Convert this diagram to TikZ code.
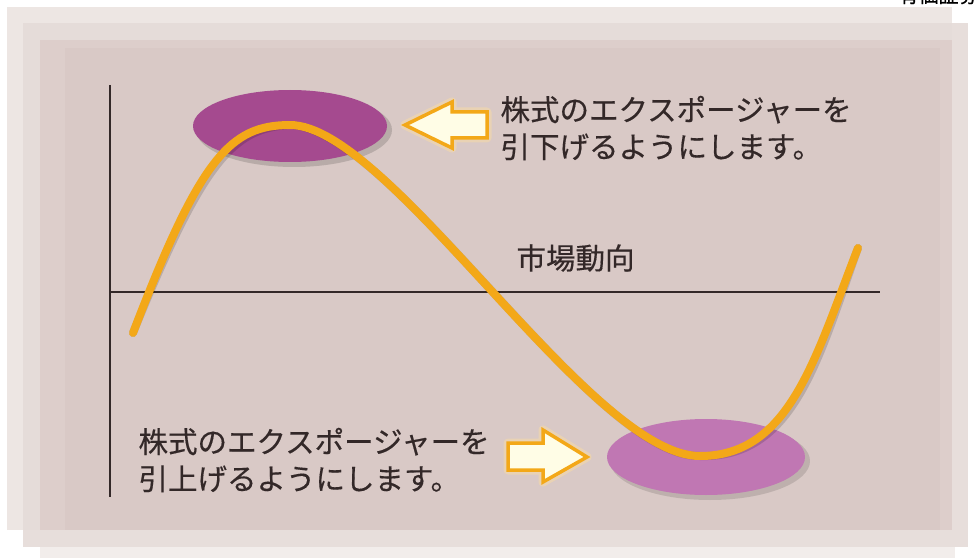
\documentclass[tikz,border=0pt]{standalone}
\usepackage{fontspec}
\setmainfont{Noto Sans CJK JP}[FakeBold=0.4]
\usepackage{tikz}
\usetikzlibrary{shapes.geometric}
\definecolor{paneldark}{HTML}{D9C9C6}
\definecolor{panelmid}{HTML}{E5DBD8}
\definecolor{panellight}{HTML}{EDE6E3}
\definecolor{humptop}{HTML}{A54A8F}
\definecolor{humpbot}{HTML}{C077B3}
\definecolor{trendorange}{HTML}{F3A818}
\definecolor{inkdark}{HTML}{332828}
\definecolor{arrowfill}{HTML}{FFFDE6}
\tikzset{
    hump/.style={
           ellipse,
           inner sep=0pt,
           },
    note/.style={
           align=left,
           anchor=west,
           text=inkdark,
           font=\fontsize{29.5}{37}\selectfont,
           },
    pointer/.style={
           fill=arrowfill,
           draw=trendorange, line width=3.5pt,
           line join=miter,
           },
    axis/.style={
           draw=inkdark, line width=2.5pt,
           },
}
\begin{document}
\begin{tikzpicture}[x=1pt, y=1pt]
    \useasboundingbox (0,0) rectangle (974,558);
    \fill[white] (0,0) rectangle (974,558);

    % stacked panels behind the chart
    \fill[panellight] (7,28) rectangle (952,551);
    \fill[panelmid, opacity=0.9] (23,11) rectangle (968,535);
    \fill[panellight, opacity=0.7] (40,0) rectangle (955,11);
    \fill[paneldark!70!panelmid] (40,28) rectangle (952,518);
    \fill[paneldark] (65,28) rectangle (940,510);

    % cut off title above the panel
    \node[anchor=west, text=black, font=\fontsize{20}{20}\selectfont] (title) at (895,563) {有価証券};

    % the two humps
    \fill[black, opacity=0.15] (294,428) ellipse (98 and 37);
    \node[hump, fill=humptop, minimum width=194pt, minimum height=72pt] (high) at (290,432) {};
    \fill[black, opacity=0.12] (710,97) ellipse (100 and 39);
    \node[hump, fill=humpbot, minimum width=198pt, minimum height=76pt] (low) at (706,101) {};

    % axes
    \coordinate (origin) at (110,266);
    \coordinate (ytop) at (110,473);
    \coordinate (ybot) at (110,61);
    \coordinate (xend) at (880,266);
    \draw[axis] (ytop) -- (ybot);
    \draw[axis] (origin) -- (xend);

    % market curve
    \coordinate (start) at (133,225);
    \coordinate (peak) at (290,433);
    \coordinate (trough) at (700,102);
    \coordinate (finish) at (858,310);
    \draw[black, opacity=0.15, line width=8pt, line cap=round, xshift=3pt, yshift=-3pt]
        (start) .. controls (200,400) and (230,433) .. (peak)
        .. controls (390,433) and (590,102) .. (trough)
        .. controls (790,102) and (815,200) .. (finish);
    \draw[trendorange, line width=8pt, line cap=round]
        (start) .. controls (200,400) and (230,433) .. (peak)
        .. controls (390,433) and (590,102) .. (trough)
        .. controls (790,102) and (815,200) .. (finish);

    % labels
    \node[note] (sell) at (497,430) {株式のエクスポージャーを\\引下げるようにします。};
    \node[note] (buy) at (135,98) {株式のエクスポージャーを\\引上げるようにします。};
    \node[note] (trend) at (513,300) {市場動向};

    % block arrows towards the humps
    \draw[trendorange!40, line width=9pt, opacity=0.5, line join=round]
        (405,433) -- (452,456) -- (452,446) -- (487,446) -- (487,420) -- (452,420) -- (452,410) -- cycle;
    \draw[pointer]
        (405,433) -- (452,456) -- (452,446) -- (487,446) -- (487,420) -- (452,420) -- (452,410) -- cycle;
    \draw[trendorange!40, line width=9pt, opacity=0.5, line join=round]
        (587,101) -- (543,128) -- (543,115) -- (508,115) -- (508,88) -- (543,88) -- (543,76) -- cycle;
    \draw[pointer]
        (587,101) -- (543,128) -- (543,115) -- (508,115) -- (508,88) -- (543,88) -- (543,76) -- cycle;
\end{tikzpicture}
\end{document}
